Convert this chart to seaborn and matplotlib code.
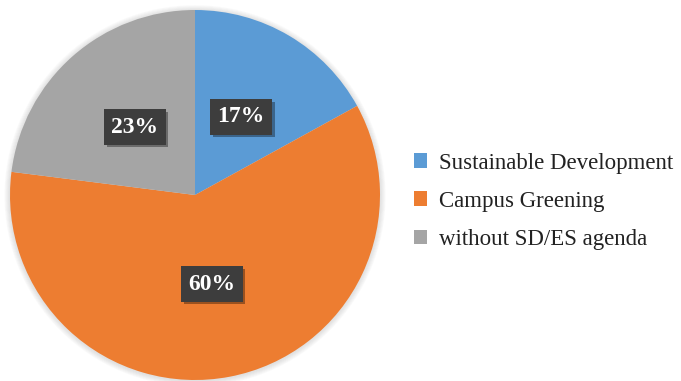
import matplotlib
matplotlib.use("Agg")
import matplotlib.pyplot as plt
import matplotlib.patheffects as pe
from matplotlib.patches import Patch, Circle
import seaborn as sns

categories = ["Sustainable Development", "Campus Greening", "without SD/ES agenda"]
shares = [17, 60, 23]
colors = ["#5B9BD5", "#ED7D31", "#A5A5A5"]

sns.set_theme(style="white")
plt.rcParams["font.family"] = ["Liberation Serif", "DejaVu Serif"]

W, H = 681, 381
fig = plt.figure(figsize=(W / 100, H / 100), dpi=100)
fig.patch.set_facecolor("white")

# pie centre and radius in pixels, measured from the top-left corner
cx, cy, r = 195, 195, 185
ax = fig.add_axes([(cx - r) / W, (H - cy - r) / H, 2 * r / W, 2 * r / H])

wedges, texts = ax.pie(shares, colors=colors, startangle=90, counterclock=False,
                       radius=1, labels=[f"{v}%" for v in shares],
                       labeldistance=0.49,
                       wedgeprops=dict(linewidth=0, zorder=2))
ax.set_xlim(-1, 1)
ax.set_ylim(-1, 1)
ax.set_aspect("equal")
ax.axis("off")

# soft halo behind the pie
for i in range(6):
    ax.add_patch(Circle((0, -0.004), 1 + 0.005 * (i + 1), color="#9a9a9a",
                        alpha=0.05, lw=0, zorder=0, clip_on=False))

for t in texts:
    t.set_color("white")
    t.set_fontsize(17)
    t.set_fontweight("bold")
    t.set_ha("center")
    t.set_va("center")
    t.set_zorder(5)
    t.set_bbox(dict(boxstyle="square,pad=0.3", facecolor="#3d3d3d", edgecolor="none"))
    t.get_bbox_patch().set_path_effects([
        pe.SimplePatchShadow(offset=(2, -2), shadow_rgbFace="#000000", alpha=0.35),
        pe.Normal()])

handles = [Patch(facecolor=c, edgecolor="none") for c in colors]
fig.legend(handles, categories, loc="upper left",
           bbox_to_anchor=(393 / W, 1 - 132 / H), frameon=False,
           fontsize=16.5, handlelength=0.6, handleheight=0.6, handletextpad=0.5,
           labelspacing=0.75, labelcolor="#222222")

fig.savefig("out.png", dpi=100)
